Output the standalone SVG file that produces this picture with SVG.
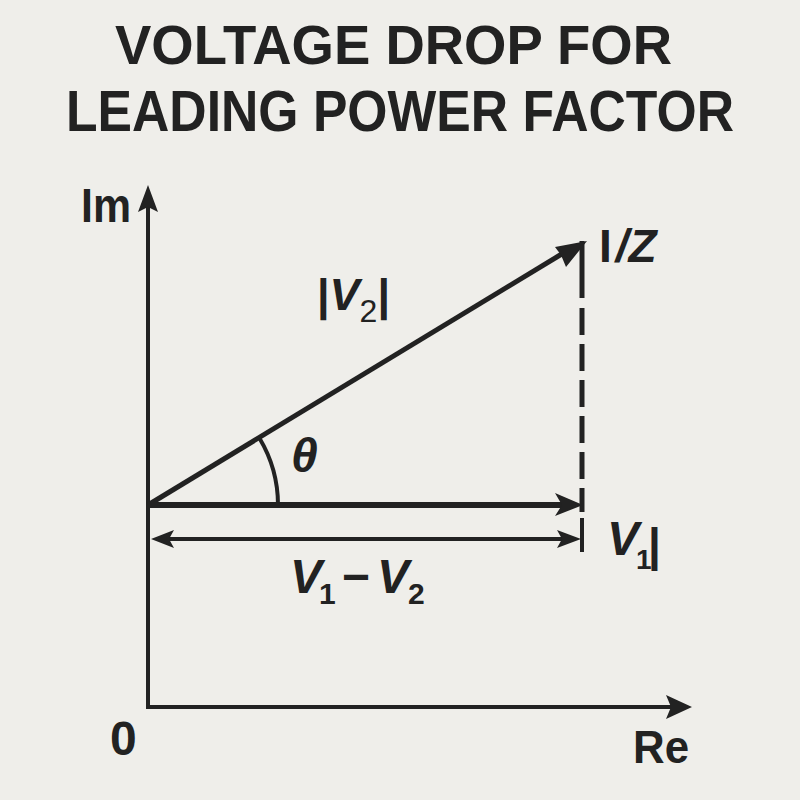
<svg xmlns="http://www.w3.org/2000/svg" width="800" height="800" viewBox="0 0 800 800">
<style>
.t{font-family:"Liberation Sans",Arial,sans-serif;font-weight:bold;fill:#222}
.it{font-style:italic}
.ln{stroke:#222;fill:none;stroke-linecap:butt}
.ah{fill:#222}
</style>
<rect width="800" height="800" fill="#efeeea"/>
<g id="title">
<text class="t" x="115" y="64" font-size="56" textLength="557" lengthAdjust="spacingAndGlyphs">VOLTAGE DROP FOR</text>
<text class="t" x="66" y="131" font-size="58" textLength="668" lengthAdjust="spacingAndGlyphs">LEADING POWER FACTOR</text>
</g>
<g id="connectors">
<line class="ln" x1="148" y1="709" x2="148" y2="205" stroke-width="4"/>
<polygon class="ah" points="148,185 158,212 148,207 138,212"/>
<line class="ln" x1="146" y1="707" x2="672" y2="707" stroke-width="4"/>
<polygon class="ah" points="692,707 666,695 671,707 666,719"/>
<line class="ln" x1="148" y1="505" x2="565" y2="252" stroke-width="5"/>
<polygon class="ah" points="587,241 555,247 561,255 566,267"/>
<line class="ln" x1="148" y1="505" x2="562" y2="505" stroke-width="6"/>
<polygon class="ah" points="583,505 555,493 562,505 555,516"/>
<line class="ln" x1="582" y1="241" x2="582" y2="298" stroke-width="5"/>
<line class="ln" x1="582" y1="308" x2="582" y2="512" stroke-width="5" stroke-dasharray="27 9"/>
<line class="ln" x1="168" y1="539" x2="562" y2="539" stroke-width="4"/>
<polygon class="ah" points="151,539 174,530 169,539 174,548"/>
<polygon class="ah" points="581,539 557,530 562,539 557,548"/>
<line class="ln" x1="582" y1="518" x2="582" y2="552" stroke-width="4"/>
<path class="ln" d="M259.5,438.2 A130,130 0 0 1 278,505" stroke-width="4"/>
</g>
<g id="label-im"><text class="t" x="81" y="222" font-size="48" textLength="50" lengthAdjust="spacingAndGlyphs">Im</text></g>
<g id="label-0"><text class="t" x="110" y="755" font-size="48">0</text></g>
<g id="label-re"><text class="t" x="633" y="763" font-size="46" textLength="56" lengthAdjust="spacingAndGlyphs">Re</text></g>
<g id="label-iz"><text class="t" x="599" y="262" font-size="46">I<tspan class="it" dx="4">/Z</tspan></text></g>
<g id="label-v2mag"><text class="t" x="317" y="310" font-size="45" font-weight="normal">|<tspan class="it" font-weight="bold">V</tspan><tspan font-size="32" dy="12" font-weight="normal">2</tspan><tspan dy="-12">|</tspan></text></g>
<g id="label-theta"><text class="t it" x="291" y="472" font-size="48" font-weight="normal">θ</text></g>
<g id="label-v1"><text class="t it" x="607" y="555" font-size="48">V</text><text class="t" x="636" y="569" font-size="28">1</text><text class="t" x="648" y="561" font-size="46" font-weight="normal">|</text></g>
<g id="label-v1v2">
<text class="t it" x="290" y="593" font-size="48">V</text>
<text class="t" x="319" y="604" font-size="30">1</text>
<text class="t" x="342" y="593" font-size="48">−</text>
<text class="t it" x="377" y="593" font-size="48">V</text>
<text class="t" x="408" y="604" font-size="30">2</text>
</g>
</svg>
